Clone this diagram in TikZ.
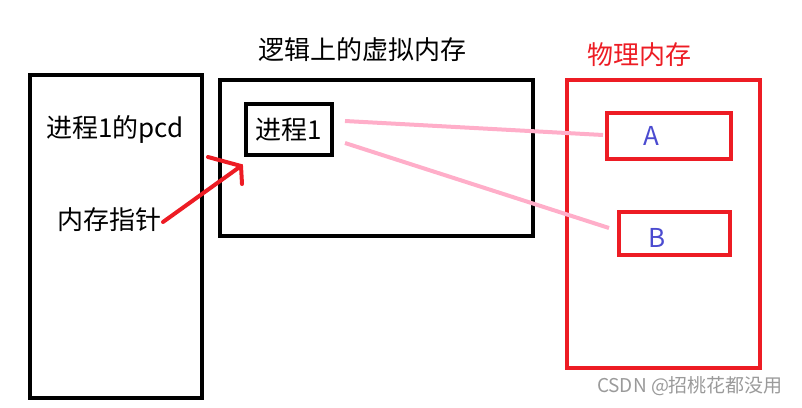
\documentclass[tikz,border=0pt]{standalone}
\usepackage{fontspec}
\setmainfont{Noto Sans CJK SC}
\definecolor{pred}{HTML}{ED1C24}
\definecolor{ppink}{HTML}{FFAEC9}
\definecolor{pblue}{HTML}{4B4BD0}
\definecolor{wm}{HTML}{9A9A9A}
\begin{document}
\begin{tikzpicture}[x=1pt,y=-1pt,
  blk/.style={draw=black,line width=4.5pt},
  rbox/.style={draw=pred,line width=4.5pt},
  lbl/.style={font=\fontsize{26}{28}\selectfont,inner sep=0pt,anchor=center},
  pinkline/.style={draw=ppink,line width=4pt},
  redarrow/.style={draw=pred,line width=4pt,line cap=round}]
\useasboundingbox (0,0) rectangle (802,407);
% boxes
\draw[blk] (30,75) rectangle (202,398);
\draw[blk] (220,80) rectangle (533,236);
\draw[black,line width=3.5pt] (246,104) rectangle (332,155);
\draw[rbox] (567,80) rectangle (760,368);
\draw[rbox] (607,113) rectangle (731,159);
\draw[rbox] (619,212) rectangle (730,255);
% texts
\node[lbl] (title) at (362,50) {逻辑上的虚拟内存};
\node[lbl,text=pred] (phys) at (639,55) {物理内存};
\node[lbl] (pcd) at (115,130) {进程1的pcd};
\node[lbl] (ptr) at (109,220) {内存指针};
\node[lbl] (p1) at (289,130) {进程1};
\node[lbl,text=pblue] (A) at (651,136) {A};
\node[lbl,text=pblue] (B) at (657,238) {B};
\node[font=\fontsize{19}{21}\selectfont,text=wm,inner sep=0pt] (wmk) at (690,386) {CSDN @招桃花都没用};
% coordinates
\coordinate (l1s) at (345,121);
\coordinate (l1e) at (603,135);
\coordinate (l2s) at (345,143);
\coordinate (l2e) at (609,228);
\coordinate (as) at (163,222);
\coordinate (ae) at (241,166);
\coordinate (h1) at (208,157);
\coordinate (h2) at (242,184);
\draw[pinkline] (l1s) -- (l1e);
\draw[pinkline] (l2s) -- (l2e);
\draw[redarrow] (as) -- (ae);
\draw[redarrow] (h1) -- (ae) -- (h2);
\end{tikzpicture}
\end{document}
